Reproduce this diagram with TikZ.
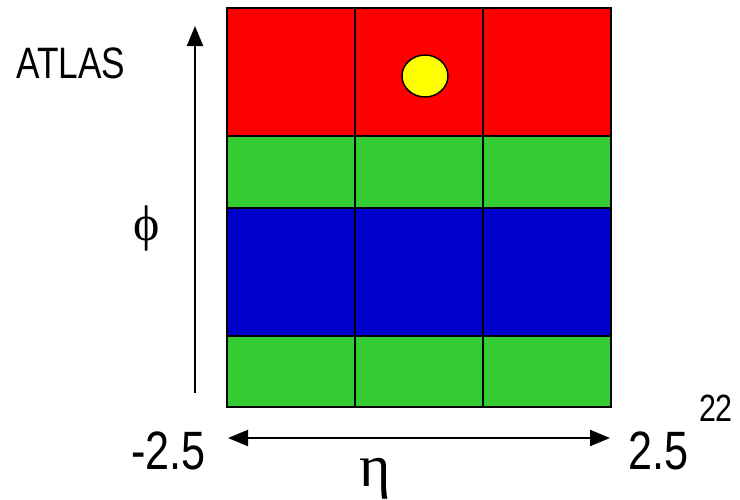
\documentclass[tikz,border=0pt]{standalone}
\usepackage{fontspec}
\setmainfont{Liberation Sans}[FakeStretch=0.8]
\newfontfamily\greekfont{Liberation Serif}
\usetikzlibrary{arrows.meta,shapes.geometric}
\definecolor{calred}{RGB}{255,0,0}
\definecolor{calgreen}{RGB}{51,204,51}
\definecolor{calblue}{RGB}{0,0,204}
\definecolor{hityellow}{RGB}{255,255,0}
\tikzset{
  cell/.style={draw, line width=1pt, inner sep=0pt, minimum width=64pt, minimum height=#1},
  axis/.style={>={Triangle[length=10pt,width=8pt]}, line width=1pt},
  lbl/.style={inner sep=0pt, font=\fontsize{27}{27}\selectfont}
}
\begin{document}
\begin{tikzpicture}[x=0.5pt,y=-0.5pt]
  \useasboundingbox (0,0) rectangle (740,499);

  % calorimeter cells, rows top to bottom
  \foreach \col/\cx in {1/291,2/419,3/546.5} {
    \node[cell=64pt, fill=calred] (r1c\col) at (\cx,72) {};
    \node[cell=36pt, fill=calgreen] (r2c\col) at (\cx,172) {};
    \node[cell=64pt, fill=calblue] (r3c\col) at (\cx,272) {};
    \node[cell=35.5pt, fill=calgreen] (r4c\col) at (\cx,371.5) {};
  }

  % cluster seed
  \node[ellipse, draw, line width=0.75pt, fill=hityellow, minimum width=23pt, minimum height=21pt] (hit) at (425,76) {};

  % axes
  \coordinate (phibot) at (195,393);
  \coordinate (phitop) at (195,26);
  \draw[axis, ->] (phibot) -- (phitop);
  \coordinate (etaleft) at (228,438);
  \coordinate (etaright) at (610,438);
  \draw[axis, <->] (etaleft) -- (etaright);

  \node[inner sep=0pt, font=\fontsize{22}{22}\selectfont] (atlas) at (71,63) {ATLAS};
  \node[lbl, font=\fontsize{25}{25}\greekfont] (phi) at (147,228) {ϕ};
  \node[lbl, font=\fontsize{30}{30}\greekfont] (eta) at (375,479) {η};
  \node[lbl, anchor=east] (etamin) at (206,451) {-2.5};
  \node[lbl, anchor=west] (etamax) at (628,451) {2.5};
  \node[inner sep=0pt, font=\fontsize{19}{19}\selectfont] (page) at (716,408) {22};
\end{tikzpicture}
\end{document}
